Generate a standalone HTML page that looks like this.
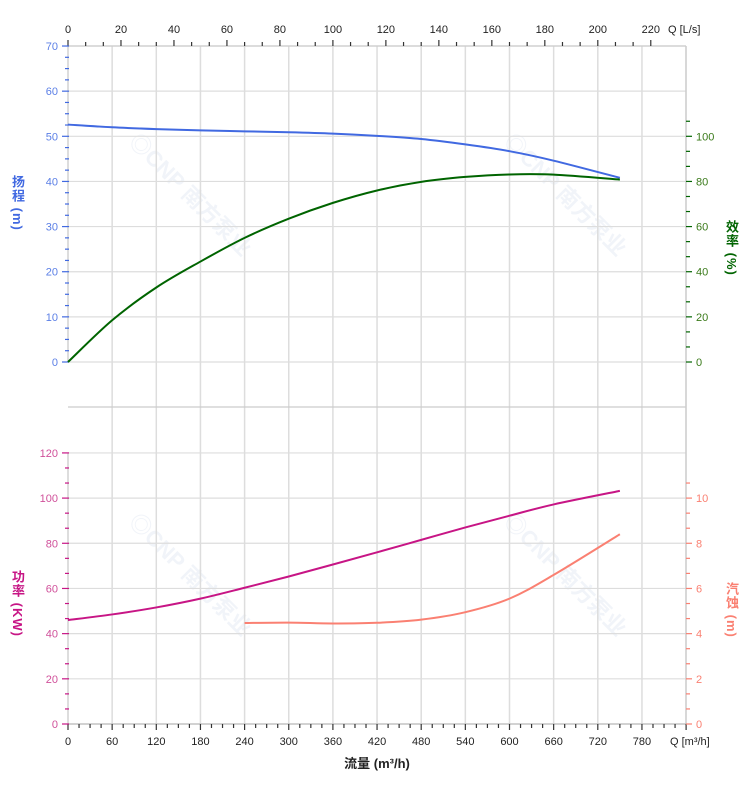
<!DOCTYPE html>
<html><head><meta charset="utf-8"><style>
html,body{margin:0;padding:0;background:#fff;width:752px;height:797px;overflow:hidden}
svg{position:absolute;left:0;top:0}
.vl{position:absolute;writing-mode:vertical-rl;font-family:"Liberation Sans","Noto Sans CJK SC",sans-serif;font-size:13px;font-weight:bold;line-height:14px;letter-spacing:1px}
</style></head><body>
<svg id="s" width="752" height="797" xmlns="http://www.w3.org/2000/svg" font-family="Liberation Sans, Noto Sans CJK SC, sans-serif"></svg>
<div class="vl" style="left:10px;top:175px;color:#4169e1">扬程 (m)</div>
<div class="vl" style="left:10px;top:570px;color:#c71585">功率 (KW)</div>
<div class="vl" style="left:724px;top:220px;color:#006400">效率 (%)</div>
<div class="vl" style="left:724px;top:582px;color:#fa8072">汽蚀 (m)</div>
<script>
const s=document.getElementById('s');let h='';
const X0=68,XR=686,px60=44.15;
const X=q=>X0+q/60*px60;
const Yh=v=>362-v*4.514, Ye=v=>362-v*2.257, Yp=v=>724-v*2.259, Yn=v=>724-v*22.59;
[[185,200],[560,200],[185,580],[560,580]].forEach(([x,y])=>{h+=`<text x="${x}" y="${y}" transform="rotate(45 ${x} ${y})" text-anchor="middle" font-size="22" font-weight="bold" fill="#f1f4f9">◎CNP 南方泵业</text>`});
for(let q=60;q<=780;q+=60)h+=`<line x1="${X(q)}" y1="46" x2="${X(q)}" y2="724" stroke="#ddd" stroke-width="1.5"/>`;
for(let v=0;v<=70;v+=10)h+=`<line x1="68" y1="${Yh(v)}" x2="686" y2="${Yh(v)}" stroke="#ddd" stroke-width="1.2"/>`;
for(let v=0;v<=120;v+=20)h+=`<line x1="68" y1="${Yp(v)}" x2="686" y2="${Yp(v)}" stroke="#ddd" stroke-width="1.2"/>`;
h+=`<line x1="68" y1="407" x2="686" y2="407" stroke="#ccc" stroke-width="1.2"/>`;
h+=`<line x1="686" y1="46" x2="686" y2="724" stroke="#ccc" stroke-width="1.5"/>`;
h+=`<line x1="68" y1="46" x2="686" y2="46" stroke="#ccc" stroke-width="1.2"/>`;
h+=`<line x1="68" y1="46" x2="68" y2="362" stroke="#bbb" stroke-width="1"/>`;
h+=`<line x1="68" y1="453" x2="68" y2="724" stroke="#bbb" stroke-width="1"/>`;
h+=`<line x1="68" y1="724" x2="686" y2="724" stroke="#bbb" stroke-width="1.2"/>`;
const pxL=52.98/20;
for(let i=0;i<=33;i++){const v=i*20/3,x=X0+v*pxL;if(x>687)break;const maj=i%3==0;h+=`<line x1="${x}" y1="46" x2="${x}" y2="${maj?40:42}" stroke="#333" stroke-width="1.2"/>`;if(maj)h+=`<text x="${x}" y="33" font-size="11" text-anchor="middle" fill="#222">${Math.round(v)}</text>`}
h+=`<text x="668" y="33" font-size="11" fill="#222">Q [L/s]</text>`;
for(let i=0;i<=56;i++){const q=i*15,x=X(q);if(x>687)break;const maj=i%4==0;h+=`<line x1="${x}" y1="724" x2="${x}" y2="${maj?730:728}" stroke="#333" stroke-width="1.2"/>`;if(maj&&q<=780)h+=`<text x="${x}" y="745" font-size="11" text-anchor="middle" fill="#222">${q}</text>`}
h+=`<text x="670" y="745" font-size="11" fill="#222">Q [m³/h]</text>`;
h+=`<text x="377" y="768" font-size="13" font-weight="bold" text-anchor="middle" fill="#222">流量 (m³/h)</text>`;
for(let i=0;i<=28;i++){const v=i*2.5,y=Yh(v),maj=i%4==0;h+=`<line x1="${maj?62:65}" y1="${y}" x2="69" y2="${y}" stroke="#4169e1" stroke-width="1.2"/>`;if(maj)h+=`<text x="58" y="${y+4}" font-size="11" text-anchor="end" fill="#5b7fe6">${v}</text>`}
for(let i=0;i<=18;i++){const v=i*20/3,y=Yp(v),maj=i%3==0;h+=`<line x1="${maj?62:65}" y1="${y}" x2="69" y2="${y}" stroke="#c71585" stroke-width="1.2"/>`;if(maj)h+=`<text x="58" y="${y+4}" font-size="11" text-anchor="end" fill="#d0509a">${Math.round(v)}</text>`}
for(let i=0;i<=16;i++){const v=i*20/3,y=Ye(v),maj=i%3==0;h+=`<line x1="686" y1="${y}" x2="${maj?692:690}" y2="${y}" stroke="#006400" stroke-width="1.2"/>`;if(maj)h+=`<text x="696" y="${y+4}" font-size="11" fill="#3a7a1a">${Math.round(v)}</text>`}
for(let i=0;i<=16;i++){const v=i*2/3,y=Yn(v),maj=i%3==0;h+=`<line x1="686" y1="${y}" x2="${maj?692:690}" y2="${y}" stroke="#fa8072" stroke-width="1.2"/>`;if(maj)h+=`<text x="696" y="${y+4}" font-size="11" fill="#fa8072">${Math.round(v)}</text>`}
function path(pts,fy,col){const p=pts.map(([q,v])=>[X(q),fy(v)]);let d=`M${p[0][0]},${p[0][1]}`;for(let i=0;i<p.length-1;i++){const a=p[i-1]||p[i],b=p[i],c=p[i+1],e=p[i+2]||c;d+=` C${b[0]+(c[0]-a[0])/6},${b[1]+(c[1]-a[1])/6} ${c[0]-(e[0]-b[0])/6},${c[1]-(e[1]-b[1])/6} ${c[0]},${c[1]}`}h+=`<path d="${d}" fill="none" stroke="${col}" stroke-width="2"/>`}
path([[0,52.6],[60,52.0],[120,51.6],[180,51.3],[240,51.1],[300,50.9],[360,50.6],[420,50.1],[480,49.4],[540,48.2],[600,46.7],[660,44.6],[750,40.8]],Yh,'#4169e1');
path([[0,0],[60,18.5],[120,33],[180,44.5],[240,55],[300,63.5],[360,70.5],[420,76],[480,79.8],[540,82],[600,83.1],[660,83],[750,80.8]],Ye,'#006400');
path([[0,46],[60,48.5],[120,51.6],[180,55.5],[240,60.3],[300,65.3],[360,70.6],[420,76],[480,81.5],[540,87],[600,92.2],[660,97.2],[750,103.2]],Yp,'#c71585');
path([[240,4.47],[300,4.49],[360,4.45],[420,4.48],[480,4.62],[540,4.95],[600,5.55],[660,6.6],[750,8.4]],Yn,'#fa8072');
s.innerHTML=h;
</script>
</body></html>
